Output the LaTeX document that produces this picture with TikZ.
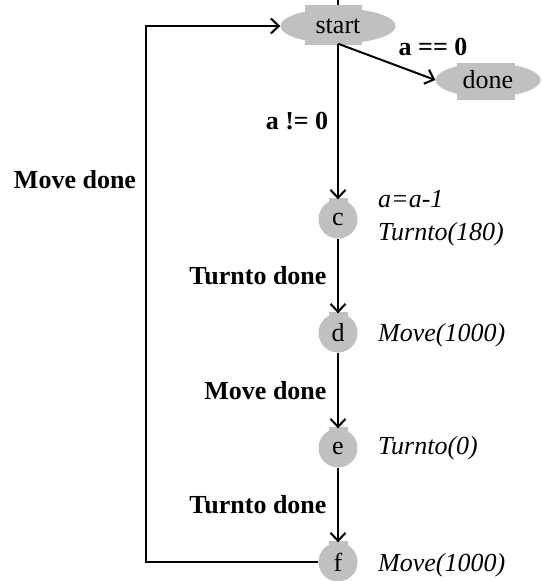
\documentclass[tikz,border=0pt]{standalone}
\usepackage{fontspec}
\setmainfont{Liberation Serif}
\usetikzlibrary{shapes.geometric,arrows.meta,backgrounds}
\definecolor{stategray}{RGB}{192,192,192}
\begin{document}
\begin{tikzpicture}[x=1pt,y=-1pt,
  font=\fontsize{26}{30}\selectfont,
  oval/.style={ellipse,fill=stategray,inner sep=0pt},
  dot/.style={circle,fill=stategray,inner sep=0pt,minimum size=39pt},
  trans/.style={line width=2pt,-{Straight Barb[length=8pt,width=15pt,line width=2pt]}},
  plain/.style={line width=2pt},
  guard/.style={font=\fontsize{26}{30}\selectfont\bfseries},
  act/.style={font=\fontsize{26}{30}\selectfont\itshape,anchor=base west,inner sep=0pt}]
\useasboundingbox (0,0) rectangle (541,581);

% states
\node[oval,minimum width=115pt,minimum height=35pt] (start) at (338,26) {start};
\node[oval,minimum width=105pt,minimum height=34pt] (done) at (488,80) {done};
\node[dot] (c) at (338,219) {c};
\node[dot] (d) at (338,333) {d};
\node[dot] (e) at (338,448) {e};
\node[dot] (f) at (338,562) {f};
\coordinate (entry) at (338,0);
\coordinate (loopL) at (146,300);
\coordinate (actX) at (378,0);

% grey tabs behind the state labels
\begin{scope}[on background layer]
  \draw[plain] (entry) -- (start.north);
  \fill[stategray] ([shift={(-33,-21)}]start.center) rectangle ([shift={(24,19)}]start.center);
  \fill[stategray] ([shift={(-31,-17)}]done.center) rectangle ([shift={(27,20)}]done.center);
  \foreach \s in {c,d,e,f}
    \fill[stategray] ([shift={(-9.5,-21)}]\s.center) rectangle ([shift={(9.5,0)}]\s.center);
\end{scope}

% transitions
\draw[trans] (start.south) -- (done.west);
\draw[trans] (start.south) -- (c.north);
\draw[trans] (c.south) -- (d.north);
\draw[trans] (d.south) -- (e.north);
\draw[trans] (e.south) -- (f.north);
\draw[trans] (f.west) -| (loopL) |- (start.west);

% guards
\node[guard] (g0) at (433,47) {a == 0};
\node[guard] (g1) at (297,121) {a != 0};
\node[guard] (g2) at (75,180) {Move done};
\node[guard,anchor=east] (g3) at (330,276) {Turnto done};
\node[guard,anchor=east] (g4) at (330,391) {Move done};
\node[guard,anchor=east] (g5) at (330,505) {Turnto done};

% actions
\node[act] (a1) at (378,207) {a=a-1};
\node[act] (a2) at (378,240) {Turnto(180)};
\node[act] (a3) at (d.base -| actX) {Move(1000)};
\node[act] (a4) at (e.base -| actX) {Turnto(0)};
\node[act] (a5) at (f.base -| actX) {Move(1000)};
\end{tikzpicture}
\end{document}
